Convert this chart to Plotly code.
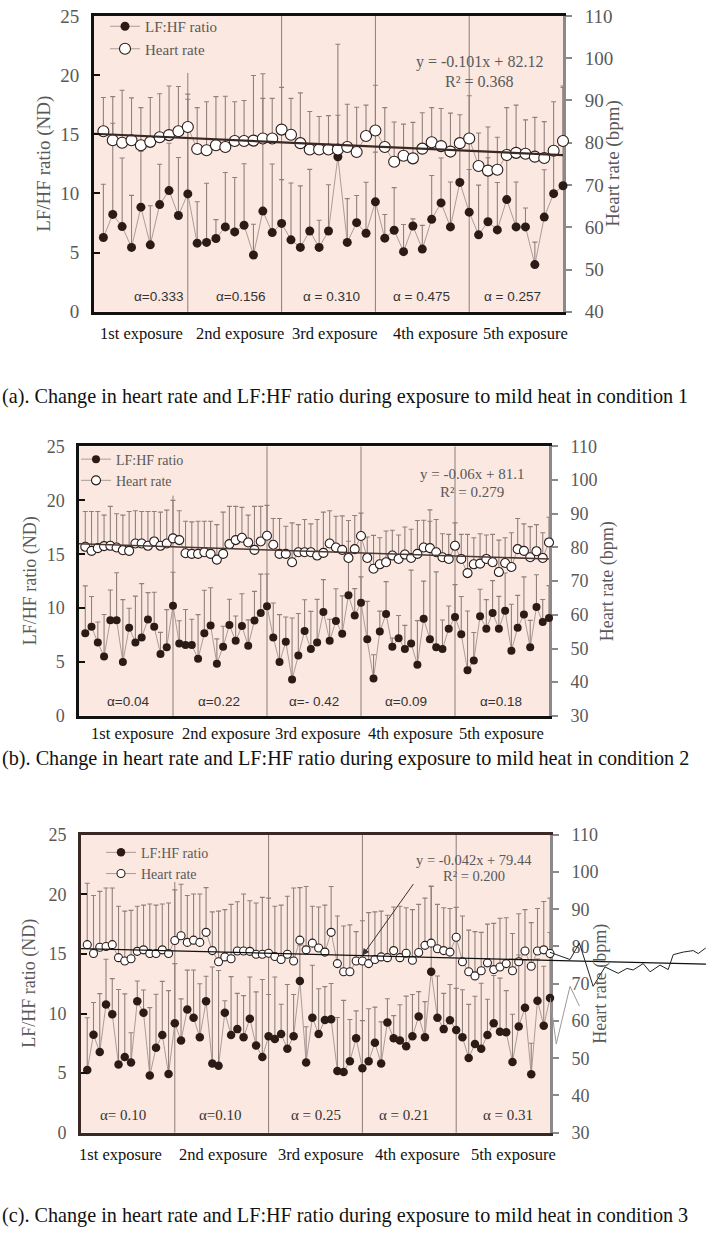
import plotly.graph_objects as go

W, H = 706, 1240

# ---------------- data ----------------
exposure_labels = ["1st exposure", "2nd exposure", "3rd exposure", "4th exposure", "5th exposure"]

# Panel (a): condition 1, 10 samples per exposure
a_lf = [6.28, 8.23, 7.20, 5.44, 8.84, 5.66, 9.06, 10.24, 8.14, 9.96,
        5.80, 5.86, 6.19, 7.17, 6.75, 7.31, 4.80, 8.51, 6.69, 7.47,
        6.08, 5.44, 6.83, 5.44, 6.83, 13.1, 5.86, 7.53, 6.64, 9.29,
        6.22, 6.89, 5.08, 7.25, 5.30, 7.81, 9.20, 7.17, 10.93, 8.42,
        6.50, 7.61, 6.92, 9.48, 7.17, 7.17, 3.99, 8.00, 9.98, 10.65]
a_lf_err = [4.5, 7.7, 5.8, 4.4, 4.7, 3.3, 3.4, 4.0, 4.9, 8.0,
            3.5, 5.0, 1.6, 4.6, 4.6, 5.2, 2.6, 11.6, 5.8, 3.7,
            4.8, 5.2, 5.2, 2.3, 3.9, 9.5, 3.7, 2.3, 4.3, 4.2,
            2.0, 3.6, 2.3, 0.6, 2.0, 3.7, 3.8, 3.8, 3.6, 3.6,
            4.2, 5.4, 4.0, 4.0, 3.8, 1.6, 1.9, 4.0, 4.0, 8.3]
a_hr = [82.7, 80.6, 80.0, 80.6, 79.4, 80.2, 81.3, 81.8, 82.7, 83.7,
        78.5, 78.2, 79.4, 79.0, 80.4, 80.4, 80.5, 81.0, 81.0, 83.1,
        81.9, 79.9, 78.4, 78.4, 78.4, 78.4, 79.0, 77.8, 81.6, 82.9,
        79.0, 75.5, 76.9, 76.3, 78.6, 80.1, 79.2, 77.9, 79.9, 81.0,
        74.5, 73.4, 73.6, 77.1, 77.6, 77.4, 76.7, 76.4, 78.1, 80.4]
a_hr_err = [8.0, 10.3, 12.4, 10.0, 8.9, 10.5, 10.3, 11.6, 10.6, 7.8,
            9.8, 11.5, 11.5, 12.0, 9.3, 9.6, 15.4, 9.5, 9.5, 10.0,
            8.6, 11.9, 9.0, 7.8, 8.0, 8.1, 10.1, 10.6, 7.3, 10.7,
            9.3, 9.4, 7.5, 8.5, 8.5, 8.2, 8.9, 9.1, 6.7, 10.1,
            7.8, 10.3, 7.7, 11.2, 11.3, 8.0, 9.3, 8.6, 11.6, 13.0]
a_alpha = ["α=0.333", "α=0.156", "α = 0.310", "α = 0.475", "α = 0.257"]
a_fit = (-0.101, 82.12)
a_eq = ["y = -0.101x + 82.12", "R² = 0.368"]

# Panel (b): condition 2, 15 samples per exposure
b_lf = [7.66, 8.27, 6.81, 5.50, 8.88, 8.88, 4.99, 8.18, 6.81, 7.27, 8.94, 8.27, 5.75, 6.36, 10.22,
        6.72, 6.57, 6.57, 5.29, 7.66, 8.39, 4.84, 6.42, 8.42, 6.96, 8.33, 6.51, 8.85, 9.55, 10.16,
        7.27, 4.99, 6.87, 3.38, 5.60, 7.88, 6.20, 6.81, 9.64, 6.96, 8.80, 7.63, 11.2, 9.31, 10.5,
        7.12, 3.47, 7.82, 9.46, 6.42, 7.21, 6.20, 6.72, 4.74, 9.00, 7.12, 6.36, 6.20, 8.09, 9.18,
        7.57, 4.23, 5.14, 9.25, 8.09, 9.55, 8.09, 9.76, 6.05, 8.18, 9.40, 6.36, 10.10, 8.70, 9.09]
b_lf_err = [4.4, 2.8, 1.9, 3.9, 2.8, 4.4, 5.8, 1.8, 4.3, 5.0, 2.5, 3.2, 2.0, 3.5, 3.1,
            2.1, 3.3, 2.4, 4.1, 4.0, 3.5, 2.3, 1.9, 2.4, 2.3, 3.0, 2.4, 2.7, 3.6, 3.0,
            3.2, 4.4, 2.3, 5.7, 3.9, 2.9, 3.5, 4.0, 3.0, 2.0, 3.0, 3.5, 5.0, 2.5, 2.4,
            3.5, 2.2, 1.9, 3.0, 0.8, 2.1, 2.2, 6.8, 4.1, 3.5, 12.0, 7.0, 2.7, 2.1, 3.0,
            3.5, 5.5, 2.6, 2.5, 2.7, 3.0, 3.0, 3.5, 4.3, 3.0, 3.5, 2.5, 3.0, 2.1, 3.0]
b_hr = [80.2, 79.0, 79.8, 80.4, 80.5, 80.0, 79.2, 79.0, 81.2, 81.2, 80.5, 81.8, 80.5, 81.2, 82.7,
        82.2, 78.3, 78.1, 78.1, 78.6, 78.1, 76.4, 78.1, 81.0, 82.2, 82.9, 81.5, 79.3, 81.8, 83.5,
        80.8, 78.1, 78.1, 75.6, 78.6, 78.6, 78.6, 77.6, 78.4, 81.2, 80.0, 79.3, 76.9, 79.5, 83.4,
        76.9, 73.7, 75.0, 75.6, 77.6, 76.6, 77.9, 76.9, 78.1, 80.0, 79.8, 78.6, 77.1, 76.6, 80.5,
        76.6, 72.4, 75.0, 75.2, 76.6, 75.6, 72.7, 75.4, 74.2, 79.5, 79.0, 77.1, 78.9, 76.9, 81.5]
b_hr_err = [10.5, 11.7, 10.9, 9.2, 11.7, 10.0, 10.4, 11.7, 9.7, 9.5, 10.2, 8.9, 10.0, 9.9, 11.3,
            8.7, 9.5, 9.5, 9.7, 9.2, 9.7, 10.4, 12.4, 11.2, 10.0, 9.0, 8.1, 12.9, 10.4, 9.0,
            7.8, 10.5, 8.2, 11.7, 8.2, 9.7, 8.4, 10.7, 12.1, 9.7, 9.3, 10.1, 11.1, 10.0, 6.8,
            6.2, 9.9, 7.9, 9.3, 7.5, 7.1, 8.2, 8.5, 9.9, 8.1, 8.0, 9.7, 7.0, 7.3, 6.8,
            7.3, 11.5, 7.9, 8.9, 7.1, 8.3, 9.5, 7.5, 10.2, 9.1, 8.0, 9.1, 7.9, 7.5, 7.5]
b_alpha = ["α=0.04", "α=0.22", "α=- 0.42", "α=0.09", "α=0.18"]
b_fit = (-0.06, 81.1)
b_eq = ["y = -0.06x + 81.1", "R² = 0.279"]

# Panel (c): condition 3, 15 samples per exposure
c_lf = [5.25, 8.22, 6.77, 10.75, 9.93, 5.72, 6.35, 5.89, 11.03, 10.07, 4.79, 7.12, 8.20, 4.92, 9.19,
        7.73, 10.34, 9.65, 8.00, 11.03, 5.80, 5.61, 10.07, 8.20, 8.69, 8.00, 9.57, 7.32, 6.35, 8.09,
        7.87, 8.28, 7.04, 8.09, 12.73, 5.89, 9.65, 8.28, 9.46, 9.52, 5.17, 5.10, 6.00, 7.92, 5.40,
        6.00, 7.54, 5.80, 9.24, 7.92, 7.73, 7.26, 8.09, 9.74, 8.00, 13.5, 9.65, 8.69, 9.43, 8.61,
        8.00, 6.27, 7.45, 7.04, 8.20, 9.19, 8.47, 8.42, 5.94, 8.91, 10.48, 4.90, 11.08, 8.97, 11.30]
c_lf_err = [4.4, 2.7, 4.9, 3.8, 3.0, 6.3, 5.3, 2.5, 1.7, 1.9, 5.7, 4.5, 4.5, 7.0, 5.0,
            3.5, 3.3, 4.0, 4.5, 2.1, 8.1, 8.0, 1.0, 4.9, 3.0, 3.5, 3.5, 4.5, 6.5, 3.5,
            5.2, 2.5, 5.4, 3.5, 3.0, 3.0, 4.4, 3.8, 2.8, 3.0, 4.5, 6.0, 3.5, 2.3, 4.0,
            4.4, 3.0, 3.5, 2.0, 1.9, 3.0, 4.2, 3.5, 2.1, 3.0, 7.2, 3.5, 3.0, 3.0, 3.5,
            4.0, 4.5, 4.0, 5.5, 3.0, 4.0, 4.5, 3.5, 4.0, 6.0, 4.0, 2.6, 3.5, 5.0, 5.5]
c_hr = [80.5, 78.1, 79.8, 80.0, 80.5, 77.0, 76.1, 76.7, 78.7, 79.1, 78.1, 78.1, 79.1, 78.1, 81.6,
        82.9, 81.1, 81.7, 81.1, 83.8, 78.9, 75.9, 77.2, 76.7, 78.8, 78.8, 78.7, 77.9, 77.9, 78.2,
        77.3, 76.5, 77.9, 76.1, 81.7, 79.1, 80.9, 79.6, 78.5, 83.8, 75.4, 73.2, 73.2, 76.1, 76.1,
        75.4, 76.5, 77.2, 77.0, 78.9, 77.0, 78.2, 76.3, 78.4, 80.3, 80.9, 79.4, 78.9, 78.5, 82.5,
        75.9, 73.2, 72.1, 73.5, 75.6, 73.8, 74.5, 75.4, 73.5, 75.9, 78.8, 74.7, 78.8, 79.1, 78.1]
c_hr_err = [16.5, 15.6, 15.0, 15.7, 15.2, 13.8, 13.4, 13.0, 12.1, 12.0, 13.3, 13.0, 12.3, 13.6, 13.6,
            13.8, 12.6, 12.4, 13.0, 12.0, 10.4, 13.6, 12.7, 14.6, 13.2, 15.3, 13.6, 13.8, 15.3, 14.8,
            13.5, 14.6, 15.6, 19.6, 14.1, 17.0, 9.9, 11.0, 12.6, 12.3, 12.8, 12.3, 12.6, 7.9, 10.8,
            13.7, 12.8, 12.3, 11.4, 11.7, 13.8, 12.2, 13.6, 12.9, 12.7, 15.2, 11.9, 11.5, 11.7, 8.0,
            12.3, 11.2, 11.9, 10.3, 10.4, 12.4, 13.1, 12.3, 10.0, 12.9, 11.1, 11.7, 11.4, 13.0, 14.9]
c_alpha = ["α= 0.10", "α=0.10", "α = 0.25", "α = 0.21", "α = 0.31"]
c_fit = (-0.042, 79.44)
c_eq = ["y = -0.042x + 79.44", "R² = 0.200"]

# stray curves visible to the right of panel (c) in the source image
art_x = [74.9, 78.2, 79.7, 81.9, 83.8, 85.9, 87.3, 88.3, 89.9, 91.0, 92.6, 93.9, 94.7, 96.3, 97.9, 98.7, 99.9]
art_hr = [78.5, 76.5, 80.9, 69.3, 74.5, 72.8, 74.1, 73.7, 75.4, 73.2, 75.0, 73.8, 77.8, 78.5, 78.9, 78.1, 79.6]
art2_x = [75.0, 76.0, 78.2, 79.7]
art2_hr = [66.2, 53.8, 69.3, 64.0]

captions = [
    "(a). Change in heart rate and LF:HF ratio during exposure to mild heat in condition 1",
    "(b). Change in heart rate and LF:HF ratio during exposure to mild heat in condition 2",
    "(c). Change in heart rate and LF:HF ratio during exposure to mild heat in condition 3",
]

# ---------------- styling ----------------
SERIF = "Liberation Serif"
SANS = "Liberation Sans"
BG = "#FBE8E0"
DOT = "#2B1B17"
ERR = "#8F807C"
CONN = "#A2938F"
TICKC = "#595959"


def px(x):
    return x / W


def py(y):
    return 1 - y / H


panels = [
    dict(lf=a_lf, lf_err=a_lf_err, hr=a_hr, hr_err=a_hr_err, alpha=a_alpha, fit=a_fit, eq=a_eq,
         box=(94, 563, 6, 307), hr_range=(40, 110), hr_ticks=list(range(40, 111, 10)),
         hr_size=11, lf_size=9, trend_w=2.2, trend_c="#3A2824", left_w=3, left_c="#111111",
         ex_x=[141, 240, 335, 435, 525], ex_y=329, ex_size=16.5,
         al_x=[158, 240, 331, 421, 512], al_y=291, al_font=SANS, al_size=13.5,
         eq_x=479, eq_y=[53, 73], eq_size=16,
         leg_x=147, leg_top=0, leg_bottom=64, leg_size=15,
         ltitle_x=44, rtitle_x=613, cap_y=393, tick_size=19, title_size=19),
    dict(lf=b_lf, lf_err=b_lf_err, hr=b_hr, hr_err=b_hr_err, alpha=b_alpha, fit=b_fit, eq=b_eq,
         box=(79, 549, 444, 718), hr_range=(30, 110), hr_ticks=list(range(30, 111, 10)),
         hr_size=9, lf_size=8, trend_w=1.6, trend_c="#4A3834", left_w=2.5, left_c="#111111",
         ex_x=[132, 226, 318, 410, 501], ex_y=736, ex_size=16.5,
         al_x=[128, 219, 314, 406, 501], al_y=703, al_font=SANS, al_size=13.5,
         eq_x=472, eq_y=[472, 490], eq_size=15,
         leg_x=118, leg_top=441, leg_bottom=494, leg_size=14,
         ltitle_x=30, rtitle_x=607, cap_y=761, tick_size=18, title_size=18),
    dict(lf=c_lf, lf_err=c_lf_err, hr=c_hr, hr_err=c_hr_err, alpha=c_alpha, fit=c_fit, eq=c_eq,
         box=(81, 550, 839, 1142), hr_range=(30, 110), hr_ticks=list(range(30, 111, 10)),
         hr_size=8, lf_size=8.5, trend_w=1.3, trend_c="#111111", left_w=3, left_c="#3A2824",
         ex_x=[120, 223, 321, 417, 513], ex_y=1164, ex_size=16.5,
         al_x=[123, 221, 316, 404, 508], al_y=1124, al_font=SERIF, al_size=15,
         eq_x=474, eq_y=[865, 881], eq_size=14.5,
         leg_x=143, leg_top=841, leg_bottom=887, leg_size=14,
         ltitle_x=30, rtitle_x=601, cap_y=1226, tick_size=18, title_size=18),
]

fig = go.Figure()
layout = dict(width=W, height=H, margin=dict(l=0, r=0, t=0, b=0), autosize=False,
              paper_bgcolor="white", plot_bgcolor="rgba(0,0,0,0)", showlegend=True)
shapes = []
annotations = []

for i, p in enumerate(panels):
    n = len(p["lf"])
    per = n // 5
    k = list(range(1, n + 1))
    xs = "" if i == 0 else str(i + 1)
    yl = "" if i == 0 else str(2 * i + 1)
    yr = str(2 * i + 2)
    xname, ylname, yrname = "x" + xs, "y" + yl, "y" + yr
    legname = "legend" if i == 0 else "legend" + str(i + 1)
    l, r, t, b = p["box"]

    layout["xaxis" + xs] = dict(domain=[px(l), px(r)], anchor=ylname, range=[0, n],
                                showgrid=False, zeroline=False, showticklabels=False, ticks="",
                                showline=True, linecolor=p["left_c"], linewidth=2.5, mirror=True)
    layout["yaxis" + yl] = dict(domain=[py(b), py(t)], anchor=xname, range=[0, 25],
                                tickvals=[0, 5, 10, 15, 20, 25], ticks="inside", ticklen=6,
                                tickcolor="#111111", tickwidth=1.5, showgrid=False, zeroline=False,
                                showline=True, linecolor=p["left_c"], linewidth=p["left_w"],
                                tickfont=dict(family=SERIF, size=p["tick_size"], color=TICKC),
                                ticklabelstandoff=8)
    layout["yaxis" + yr] = dict(overlaying=ylname, side="right", anchor=xname,
                                range=list(p["hr_range"]), tickvals=p["hr_ticks"],
                                ticks="outside", ticklen=6, tickcolor="#8A8A8A", tickwidth=1.5,
                                showgrid=False, zeroline=False, showline=True,
                                linecolor="#8A8A8A", linewidth=3, layer="below traces",
                                tickfont=dict(family=SERIF, size=p["tick_size"], color=TICKC),
                                ticklabelstandoff=9)
    layout[legname] = dict(x=px(p["leg_x"] - 42), y=py(p["leg_top"]), xanchor="left",
                           yanchor="top", bgcolor="rgba(0,0,0,0)", borderwidth=0, itemwidth=30,
                           font=dict(family=SERIF, size=p["leg_size"], color=TICKC),
                           tracegroupgap=2, traceorder="normal")

    # panel background
    shapes.append(dict(type="rect", xref=xname + " domain", yref=ylname + " domain",
                       x0=0, x1=1, y0=0, y1=1, fillcolor=BG, line=dict(width=0), layer="below"))

    fig.add_trace(go.Scatter(
        x=k, y=p["lf"], mode="lines+markers", name="LF:HF ratio", legend=legname,
        xaxis=xname, yaxis=ylname, cliponaxis=False,
        line=dict(color=CONN, width=0.9),
        marker=dict(color=DOT, size=p["lf_size"], line=dict(width=0)),
        error_y=dict(type="data", symmetric=False, array=p["lf_err"], arrayminus=[0] * n,
                     color=ERR, thickness=1.1, width=2.5)))
    fig.add_trace(go.Scatter(
        x=k, y=p["hr"], mode="lines+markers", name="Heart rate", legend=legname,
        xaxis=xname, yaxis=yrname, cliponaxis=False,
        line=dict(color=CONN, width=0.9),
        marker=dict(color="white", size=p["hr_size"], line=dict(color=DOT, width=1.1)),
        error_y=dict(type="data", symmetric=False, array=p["hr_err"], arrayminus=[0] * n,
                     color=ERR, thickness=1.1, width=2.5)))
    slope, icpt = p["fit"]
    fig.add_trace(go.Scatter(
        x=[0, n], y=[icpt, slope * n + icpt], mode="lines", showlegend=False,
        xaxis=xname, yaxis=yrname, line=dict(color=p["trend_c"], width=p["trend_w"])))

    # exposure separators (the first one is hidden behind the legend at the top)
    for j in range(1, 5):
        top_frac = (b - p["leg_bottom"]) / (b - t) if j == 1 else 1
        shapes.append(dict(type="line", xref=xname, yref=ylname + " domain", x0=per * j, x1=per * j,
                           y0=0, y1=top_frac, line=dict(color="#8C7C78", width=1), layer="below"))

    for j, lab in enumerate(exposure_labels):
        annotations.append(dict(x=px(p["ex_x"][j]), y=py(p["ex_y"]), xref="paper", yref="paper",
                                text=lab, showarrow=False, xanchor="center", yanchor="middle",
                                font=dict(family=SERIF, size=p["ex_size"], color="#111111")))
    for j, lab in enumerate(p["alpha"]):
        annotations.append(dict(x=px(p["al_x"][j]), y=py(p["al_y"]), xref="paper", yref="paper",
                                text=lab, showarrow=False, xanchor="center", yanchor="middle",
                                font=dict(family=p["al_font"], size=p["al_size"], color="#333333")))
    for j, lab in enumerate(p["eq"]):
        annotations.append(dict(x=px(p["eq_x"]), y=py(p["eq_y"][j]), xref="paper", yref="paper",
                                text=lab, showarrow=False, xanchor="center", yanchor="middle",
                                font=dict(family=SERIF, size=p["eq_size"], color=TICKC)))
    annotations.append(dict(x=px(p["ltitle_x"]), y=py((t + b) / 2), xref="paper", yref="paper",
                            text="LF/HF ratio (ND)", textangle=-90, showarrow=False,
                            xanchor="center", yanchor="middle",
                            font=dict(family=SERIF, size=p["title_size"], color=TICKC)))
    annotations.append(dict(x=px(p["rtitle_x"]), y=py((t + b) / 2), xref="paper", yref="paper",
                            text="Heart rate (bpm)", textangle=-90, showarrow=False,
                            xanchor="center", yanchor="middle",
                            font=dict(family=SERIF, size=p["title_size"], color=TICKC)))
    annotations.append(dict(x=0, y=py(p["cap_y"]), xref="paper", yref="paper",
                            text=captions[i], showarrow=False, xanchor="left", yanchor="middle",
                            font=dict(family=SERIF, size=20.2, color="#111111")))

# arrow pointing to the trend line in panel (c)
n_c = len(c_lf)
arrow_k = 45
annotations.append(dict(x=arrow_k, y=c_fit[0] * arrow_k + c_fit[1], xref="x3", yref="y6",
                        ax=52, ay=-73, text="", showarrow=True, arrowhead=2, arrowsize=1.4,
                        arrowwidth=1, arrowcolor="#333333"))

# overlay axis to the right of panel (c) for the stray curves
l, r, t, b = panels[2]["box"]
units_per_px = n_c / (r - l)
x_end = n_c + (W - r) * units_per_px
layout["xaxis4"] = dict(domain=[px(r), 1.0], anchor="y7", range=[n_c, x_end], visible=False)
layout["yaxis7"] = dict(domain=[py(b), py(t)], anchor="x4", range=[30, 110], visible=False)
fig.add_trace(go.Scatter(x=[n_c, x_end], y=[c_fit[1] + c_fit[0] * n_c, c_fit[1] + c_fit[0] * x_end],
                         mode="lines", showlegend=False, xaxis="x4", yaxis="y7",
                         line=dict(color="#111111", width=1.3)))
fig.add_trace(go.Scatter(x=art_x, y=art_hr, mode="lines", showlegend=False, xaxis="x4", yaxis="y7",
                         line=dict(color="#222222", width=1)))
fig.add_trace(go.Scatter(x=art2_x, y=art2_hr, mode="lines", showlegend=False, xaxis="x4", yaxis="y7",
                         line=dict(color="#9A9A9A", width=1)))

layout["shapes"] = shapes
layout["annotations"] = annotations
fig.update_layout(**layout)
fig.write_html("out.html")
